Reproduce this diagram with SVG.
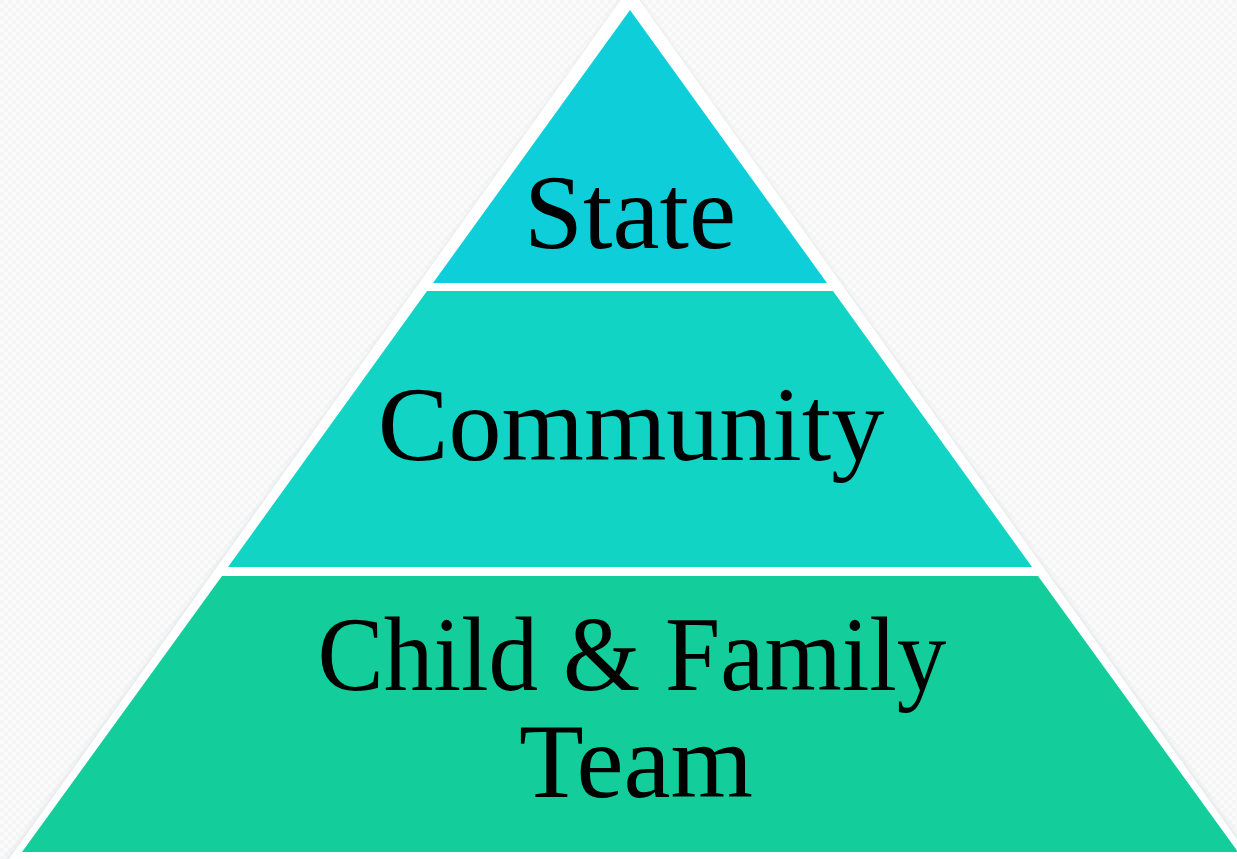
<svg xmlns="http://www.w3.org/2000/svg" width="1237" height="859" viewBox="0 0 1237 859">
  <defs>
    <pattern id="bg" width="8" height="8" patternUnits="userSpaceOnUse">
      <rect width="8" height="8" fill="#fbfbfb"/>
      <rect width="4" height="4" fill="#f5f5f5"/>
      <rect x="4" y="4" width="4" height="4" fill="#f5f5f5"/>
    </pattern>
    <filter id="sh" x="-10%" y="-10%" width="120%" height="120%">
      <feGaussianBlur stdDeviation="2"/>
    </filter>
    <style>
      .lbl { font-family: "Liberation Serif", "DejaVu Serif", serif; font-size: 106px; fill: #000; text-anchor: middle; }
    </style>
  </defs>
  <rect width="1237" height="859" fill="url(#bg)"/>
  <polygon points="630,-14 1259,866 1,866" fill="#e6e8ea" filter="url(#sh)"/>
  <polygon points="630,-13 1256,866 4,866" fill="#ffffff"/>
  <g id="tier-state">
    <polygon points="630,10 827,283 433,283" fill="#0ecfd9"/>
    <text class="lbl" x="630" y="248">State</text>
  </g>
  <g id="tier-community">
    <polygon points="427,291 833,291 1032,567 228,567" fill="#11d4c5"/>
    <text class="lbl" x="631" y="460">Community</text>
  </g>
  <g id="tier-child-family-team">
    <polygon points="222,576 1038,576 1238,852 22,852" fill="#13cd9b"/>
    <text class="lbl" x="632" y="690" textLength="629" lengthAdjust="spacingAndGlyphs">Child &amp; Family</text>
    <text class="lbl" x="636" y="797">Team</text>
  </g>
  <g id="connectors"/>
</svg>
